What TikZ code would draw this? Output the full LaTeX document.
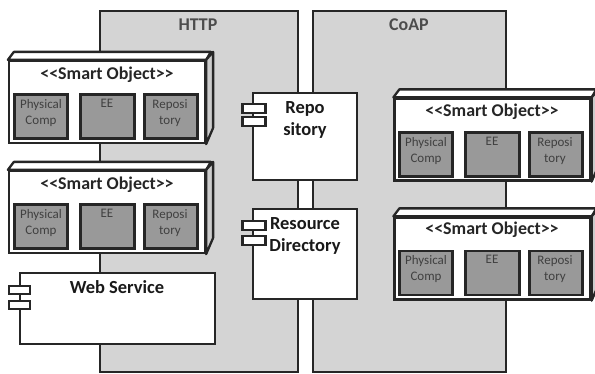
\documentclass[tikz,border=0pt]{standalone}
\usepackage{fontspec}
\setmainfont{Carlito}
\tikzset{
panel/.style={draw=black!85,line width=1.2pt,fill=black!17,minimum width=#1,minimum height=7.22cm,inner sep=0pt},
front/.style={draw=black!85,line width=1.3pt,fill=white,minimum width=3.92cm,minimum height=1.64cm,inner sep=0pt},
topface/.style={draw=black!85,line width=1.3pt,fill=white,line join=round},
sideface/.style={draw=black!85,line width=1.3pt,fill=black!20,line join=round},
part/.style={draw=black!85,line width=1.5pt,fill=black!40,minimum width=1.06cm,minimum height=0.88cm,inner sep=0pt},
comp/.style={draw=black!85,line width=1.3pt,fill=white,inner sep=0pt},
port/.style={draw=black!85,line width=1.3pt,fill=white,minimum width=0.46cm,minimum height=0.17cm,inner sep=0pt},
parttext/.style={anchor=north,align=center,text=black!75,font=\fontsize{7.4}{9}\selectfont,inner sep=0pt},
title/.style={font=\fontsize{10.2}{12}\selectfont\bfseries,text=black!85,inner sep=0pt},
comptext/.style={align=center,font=\fontsize{10.5}{12}\selectfont\bfseries,text=black!90,inner sep=0pt}
}
\begin{document}
\begin{tikzpicture}[x=0.02cm,y=-0.02cm]
%\draw[help lines] (0,0) grid (595,373);
\useasboundingbox (0,0) rectangle (595,373);
% protocol panels
\node (http) [panel=3.96cm] at (199,191.5) {};
\node (coap) [panel=3.86cm] at (409.5,191.5) {};
\node (httpt) [title,text=black!70] at (198,25) {HTTP};
\node (coapt) [title,text=black!70] at (409,25) {CoAP};
% smart object, upper left
\node (soa) [front] at (107,102) {};
\draw[topface] (soa.north west) -- ++(6,-8) -- ++(197,0) -- (soa.north east) -- cycle;
\draw[sideface] (soa.north east) -- ++(7,-8) -- ++(0,76) -- (soa.south east) -- cycle;
\node (soat) [title] at (107,75) {{<}{<}Smart Object{>}{>}};
\node (soaa) [part] at (41,116.5) {};
\node (soab) [part,minimum width=1.08cm] at (107.5,116.5) {};
\node (soac) [part] at (171,116.5) {};
\node [parttext] at (41,99) {Physical\\Comp};
\node [parttext] at (107,99) {EE};
\node [parttext] at (170,99) {Reposi\\tory};
% smart object, lower left
\node (sob) [front] at (107,212) {};
\draw[topface] (sob.north west) -- ++(6,-8) -- ++(197,0) -- (sob.north east) -- cycle;
\draw[sideface] (sob.north east) -- ++(7,-8) -- ++(0,76) -- (sob.south east) -- cycle;
\node (sobt) [title] at (107,185) {{<}{<}Smart Object{>}{>}};
\node (soba) [part] at (41,226.5) {};
\node (sobb) [part,minimum width=1.08cm] at (107.5,226.5) {};
\node (sobc) [part] at (171,226.5) {};
\node [parttext] at (41,209) {Physical\\Comp};
\node [parttext] at (107,209) {EE};
\node [parttext] at (170,209) {Reposi\\tory};
% smart object, upper right
\node (soc) [front] at (492.5,139.5) {};
\draw[topface] (soc.north west) -- ++(6,-8) -- ++(197,0) -- (soc.north east) -- cycle;
\draw[sideface] (soc.north east) -- ++(7,-8) -- ++(0,76) -- (soc.south east) -- cycle;
\node (soct) [title] at (492,112) {{<}{<}Smart Object{>}{>}};
\node (soca) [part] at (426,154.5) {};
\node (socb) [part,minimum width=1.08cm] at (492.5,154.5) {};
\node (socc) [part] at (556,154.5) {};
\node [parttext] at (426,137) {Physical\\Comp};
\node [parttext] at (492,137) {EE};
\node [parttext] at (555,137) {Reposi\\tory};
% smart object, lower right
\node (sod) [front] at (492.5,258.5) {};
\draw[topface] (sod.north west) -- ++(6,-8) -- ++(197,0) -- (sod.north east) -- cycle;
\draw[sideface] (sod.north east) -- ++(7,-8) -- ++(0,76) -- (sod.south east) -- cycle;
\node (sodt) [title] at (492,230) {{<}{<}Smart Object{>}{>}};
\node (soda) [part] at (426,273) {};
\node (sodb) [part,minimum width=1.08cm] at (492.5,273) {};
\node (sodc) [part] at (556,273) {};
\node [parttext] at (426,255) {Physical\\Comp};
\node [parttext] at (492,255) {EE};
\node [parttext] at (555,255) {Reposi\\tory};
% components
\node (web) [comp,minimum width=3.9cm,minimum height=1.42cm] at (117.5,308.5) {};
\node (repo) [comp,minimum width=2.08cm,minimum height=1.74cm] at (305,136.5) {};
\node (dir) [comp,minimum width=2.08cm,minimum height=1.8cm] at (305,254) {};
\node (webt) [comptext] at (117,287) {Web Service};
\node (repot) [comptext] at (305,120) {Repo\\sitory};
\node (dirt) [comptext] at (305,236) {Resource\\Directory};
\node (weba) [port,minimum width=0.42cm] at (19.5,290) {};
\node (webb) [port,minimum width=0.42cm] at (19.5,305) {};
\node (repoa) [port] at (254,108.5) {};
\node (repob) [port] at (254,121.5) {};
\node (dira) [port] at (254,225.5) {};
\node (dirb) [port] at (254,240.5) {};
\end{tikzpicture}
\end{document}
